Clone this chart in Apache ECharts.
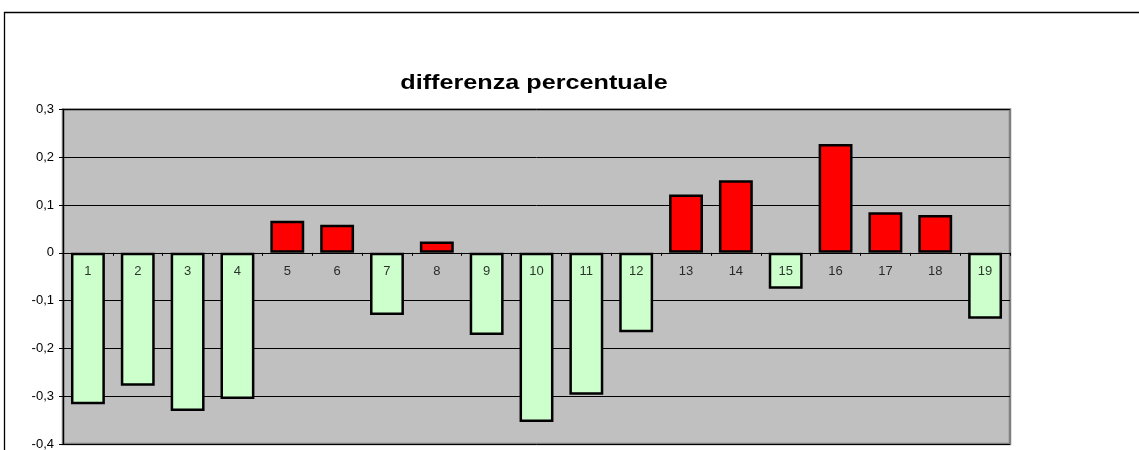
<!DOCTYPE html>
<html>
<head>
<meta charset="utf-8">
<title>differenza percentuale</title>
<script src="https://cdn.jsdelivr.net/npm/echarts@6/dist/echarts.min.js"></script>
<style>
  html, body { margin: 0; padding: 0; background: #ffffff; }
  #chart { width: 1139px; height: 450px; }
</style>
</head>
<body>
<div id="chart"></div>
<script>
// Categories along the x axis
var categories = ['1','2','3','4','5','6','7','8','9','10','11','12','13','14','15','16','17','18','19'];
// Percentage difference per category (fraction)
var differences = [-0.317, -0.278, -0.331, -0.306, 0.067, 0.059, -0.130, 0.024, -0.172, -0.354,
                   -0.297, -0.166, 0.122, 0.152, -0.075, 0.228, 0.085, 0.079, -0.138];
// Value axis range
var yMin = -0.4, yMax = 0.3, yStep = 0.1;
var chartTitle = 'differenza percentuale';

var FONT = 'Liberation Sans, Arial, sans-serif';

var chart = echarts.init(document.getElementById('chart'), null, { renderer: 'canvas' });

// category names sit on the zero line, written just under it
var baselinePoints = categories.map(function (c) { return [c, 0]; });

chart.setOption({
  animation: false,
  backgroundColor: '#ffffff',
  graphic: [{
    // outer chart frame
    type: 'rect',
    silent: true,
    shape: { x: 4.5, y: 12.5, width: 1200, height: 500 },
    style: { fill: 'none', stroke: '#000000', lineWidth: 1.3 }
  }, {
    // chart title, slightly widened
    type: 'text',
    silent: true,
    x: 534, y: 73,
    originX: 0, originY: 0,
    scaleX: 1.26,
    style: {
      text: chartTitle,
      font: 'bold 20px ' + FONT,
      fill: '#000000',
      align: 'center',
      verticalAlign: 'top'
    }
  }],
  grid: {
    left: 63, right: 129, top: 109.5, bottom: 6,
    outerBoundsMode: 'none',
    containLabel: false,
    show: true,
    backgroundColor: '#c0c0c0',
    borderColor: '#808080',
    borderWidth: 2.5
  },
  xAxis: {
    type: 'category',
    data: categories,
    z: 10,
    axisLine: { onZero: true, lineStyle: { color: '#000000', width: 1 } },
    axisTick: { show: true, alignWithLabel: false, inside: false, length: 3, lineStyle: { color: '#000000' } },
    axisLabel: { show: false },
    splitLine: { show: false }
  },
  yAxis: {
    type: 'value',
    min: yMin,
    max: yMax,
    interval: yStep,
    axisLine: { show: true, lineStyle: { color: '#000000', width: 1.3 } },
    axisTick: { show: true, length: 4, lineStyle: { color: '#000000' } },
    axisLabel: {
      color: '#000000', fontFamily: FONT, fontSize: 13, margin: 9,
      formatter: function (v) {
        var r = Math.round(v * 10) / 10;
        return r === 0 ? '0' : r.toFixed(1).replace('.', ',');
      }
    },
    splitLine: { show: true, lineStyle: { color: '#000000', width: 1 } }
  },
  series: [{
    type: 'bar',
    data: differences,
    barWidth: '68%',
    itemStyle: {
      color: function (p) { return p.value < 0 ? '#ccffcc' : '#ff0000'; },
      borderColor: '#000000',
      borderWidth: 2.5
    }
  }, {
    type: 'scatter',
    data: baselinePoints,
    z: 5,
    silent: true,
    symbolSize: 1,
    itemStyle: { color: 'rgba(0,0,0,0)' },
    label: {
      show: true,
      position: 'bottom',
      distance: 12,
      color: '#000000',
      fontFamily: FONT,
      fontSize: 13,
      formatter: function (p) { return p.value[0]; }
    }
  }]
});
</script>
</body>
</html>
